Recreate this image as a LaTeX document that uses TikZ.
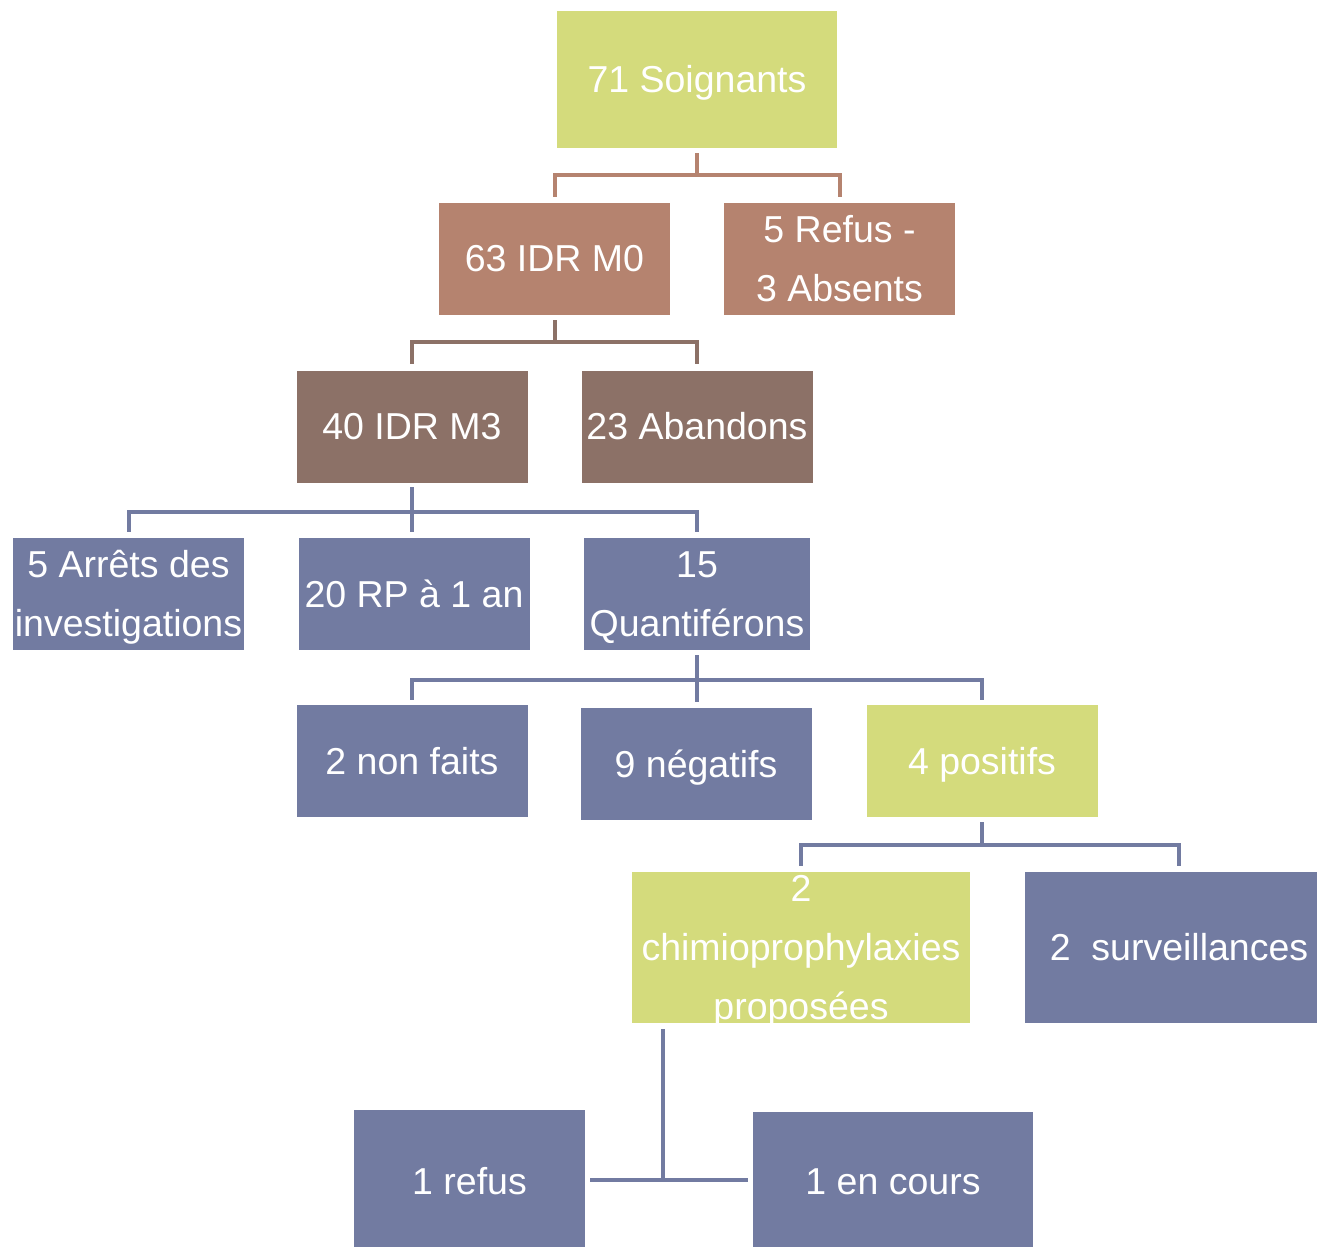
\documentclass[tikz,border=0pt]{standalone}
\usepackage{fontspec}
\setmainfont{Liberation Sans}
\usetikzlibrary{calc}
\definecolor{cgreen}{HTML}{D4DB7C}
\definecolor{csalmon}{HTML}{B5836F}
\definecolor{cbrown}{HTML}{8C7167}
\definecolor{cblue}{HTML}{727BA1}
\newcommand\ls{\rule[-0.212em]{0pt}{1.117em}}
\begin{document}
\begin{tikzpicture}[x=1pt,y=-1pt,
  box/.style={rectangle, inner sep=0pt, text=white, align=center,
    font=\fontsize{37.5}{59}\selectfont},
  gbox/.style={box, fill=cgreen},
  sbox/.style={box, fill=csalmon},
  bbox/.style={box, fill=cbrown},
  ubox/.style={box, fill=cblue},
  link/.style={line width=4pt, line join=miter},
  slink/.style={link, draw=csalmon},
  blink/.style={link, draw=cbrown},
  ulink/.style={link, draw=cblue}]
\useasboundingbox (0,0) rectangle (1317,1247);
\clip (0,0) rectangle (1317,1247);
\fill[white] (0,0) rectangle (1317,1247);

% boxes
\node[gbox, minimum width=280pt, minimum height=137pt] (soig) at (697,79.5) {\ls 71 Soignants};
\node[sbox, minimum width=231pt, minimum height=112pt] (idr0) at (554.5,259) {\ls 63 IDR M0};
\node[sbox, minimum width=231pt, minimum height=112pt] (refus) at (839.5,259) {\ls 5 Refus -\\\ls 3 Absents};
\node[bbox, minimum width=231pt, minimum height=112pt] (idr3) at (412,427) {\ls 40 IDR M3};
\node[bbox, minimum width=231pt, minimum height=112pt] (aband) at (697,427) {\ls 23 Abandons};
\node[ubox, minimum width=231pt, minimum height=112pt] (arrets) at (128.5,594) {\ls 5 Arrêts des\\\ls investigations};
\node[ubox, minimum width=231pt, minimum height=112pt] (rp) at (414,594) {\ls 20 RP à 1 an};
\node[ubox, minimum width=226pt, minimum height=112pt] (quant) at (697,594) {\ls 15\\\ls Quantiférons};
\node[ubox, minimum width=231pt, minimum height=112pt] (nonf) at (412,761) {\ls 2 non faits};
\node[ubox, minimum width=231pt, minimum height=112pt] (neg) at (696,764) {\ls 9 négatifs};
\node[gbox, minimum width=231pt, minimum height=112pt] (pos) at (982,761) {\ls 4 positifs};
\node[gbox, minimum width=338pt, minimum height=151pt] (chimio) at (801,947.5) {};
\node[box] (chimiot) at (chimio.center) {\ls 2\\\ls chimioprophylaxies\\\ls proposées};
\node[ubox, minimum width=308pt, minimum height=151pt] (surv) at (1179,947.5) {\ls 2\ \ surveillances};
\node[ubox, minimum width=231pt, minimum height=142pt] (r1) at (469.5,1181) {\ls 1 refus};
\node[ubox, minimum width=280pt, minimum height=138pt] (enc) at (893,1181) {\ls 1 en cours};

% connectors
\coordinate (h1) at (0,175);
\draw[slink] ($(soig.south)+(0,5)$) -- (soig.south |- h1);
\draw[slink] ($(idr0.north)+(0,-6)$) |- (refus.north |- h1) -- ($(refus.north)+(0,-6)$);

\coordinate (h2) at (0,342);
\draw[blink] ($(idr0.south)+(0,5)$) -- (idr0.south |- h2);
\draw[blink] ($(idr3.north)+(0,-7)$) |- (aband.north |- h2) -- ($(aband.north)+(0,-7)$);

\coordinate (h3) at (0,512);
\draw[ulink] ($(idr3.south)+(0,4)$) -- ($(idr3.south |- rp.north)+(0,-6)$);
\draw[ulink] ($(arrets.north)+(0,-6)$) |- (quant.north |- h3) -- ($(quant.north)+(0,-6)$);

\coordinate (h4) at (0,680);
\draw[ulink] ($(quant.south)+(0,5)$) -- ($(quant.south |- neg.north)+(0,-6)$);
\draw[ulink] ($(nonf.north)+(0,-5)$) |- (pos.north |- h4) -- ($(pos.north)+(0,-5)$);

\coordinate (h5) at (0,845);
\draw[ulink] ($(pos.south)+(0,5)$) -- (pos.south |- h5);
\draw[ulink] ($(chimio.north)+(0,-6)$) |- (surv.north |- h5) -- ($(surv.north)+(0,-6)$);

\coordinate (j6) at (663,1180);
\draw[ulink] ($(chimio.south -| j6)+(0,6)$) -- (j6);
\draw[ulink] ($(r1.east |- j6)+(5,0)$) -- ($(enc.west |- j6)+(-5,0)$);
\end{tikzpicture}
\end{document}
